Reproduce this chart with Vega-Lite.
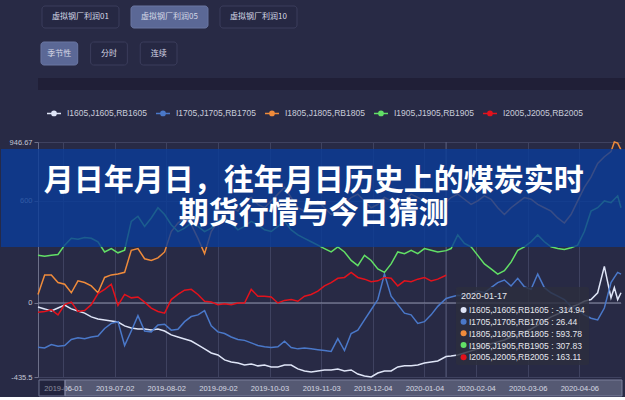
{
"$schema": "https://vega.github.io/schema/vega-lite/v6.json",
"background": "#282a45",
"padding": {"left": 0, "top": 5, "right": 0, "bottom": 0},
"spacing": 12,
"resolve": {"scale": {"color": "independent"}, "legend": {"color": "independent"}},
"config": {"view": {"stroke": null}, "font": "Liberation Sans, sans-serif"},
"vconcat": [
{
 "width": 259, "height": 22,
 "data": {"values": [{"label": "虚拟钢厂利润01", "sel": "n"}, {"label": "虚拟钢厂利润05", "sel": "y"}, {"label": "虚拟钢厂利润10", "sel": "n"}]},
 "encoding": {"x": {"field": "label", "type": "nominal", "sort": null, "axis": null, "scale": {"paddingInner": 0.135, "paddingOuter": 0.0225, "align": 1}}},
 "layer": [
  {"mark": {"type": "rect", "cornerRadius": 3, "strokeWidth": 1},
   "encoding": {"fill": {"field": "sel", "type": "nominal", "legend": null, "scale": {"domain": ["y", "n"], "range": ["#5b6896", "#262843"]}},
                "stroke": {"field": "sel", "type": "nominal", "legend": null, "scale": {"domain": ["y", "n"], "range": ["#6a76a2", "#3b3d5c"]}}}},
  {"mark": {"type": "text", "font": "Noto Sans CJK SC", "fontSize": 8, "color": "#d6d9e6"}, "encoding": {"text": {"field": "label"}}}
 ]
},
{
 "width": 139, "height": 23,
 "data": {"values": [{"label": "季节性", "sel": "y"}, {"label": "分时", "sel": "n"}, {"label": "连续", "sel": "n"}]},
 "encoding": {"x": {"field": "label", "type": "nominal", "sort": null, "axis": null, "scale": {"paddingInner": 0.26, "paddingOuter": 0.03, "align": 1}}},
 "layer": [
  {"mark": {"type": "rect", "cornerRadius": 3, "strokeWidth": 1},
   "encoding": {"fill": {"field": "sel", "type": "nominal", "legend": null, "scale": {"domain": ["y", "n"], "range": ["#5b6896", "#262843"]}},
                "stroke": {"field": "sel", "type": "nominal", "legend": null, "scale": {"domain": ["y", "n"], "range": ["#6a76a2", "#3b3d5c"]}}}},
  {"mark": {"type": "text", "font": "Noto Sans CJK SC", "fontSize": 8, "color": "#d6d9e6"}, "encoding": {"text": {"field": "label"}}}
 ]
},
{
 "width": 625, "height": 12,
 "view": {"fill": "#201f37"},
 "data": {"values": [{}]},
 "mark": {"type": "rect", "color": "#201f37"}
},
{
 "width": 583, "height": 235,
 "layer": [
  {"data": {"values": [{}]}, "mark": {"type": "rule", "color": "#8a8da6", "strokeWidth": 1},
   "encoding": {"y": {"datum": 0, "type": "quantitative", "scale": {"domain": [-435.5, 946.67], "nice": false, "zero": false}}}},
  {"data": {"values": [{}]}, "mark": {"type": "rule", "color": "#5d6080", "strokeWidth": 1},
   "encoding": {"x": {"datum": {"year": 2020, "month": 1, "date": 17, "utc": true}, "type": "temporal", "scale": {"type": "utc", "domain": [{"year": 2019, "month": 5, "date": 17, "utc": true}, {"year": 2020, "month": 5, "date": 1, "utc": true}]}}}},
  {
   "data": {"values": [
{"date":"2019-05-17","I1605":-24,"I1705":-260,"I1805":50,"I1905":280,"I2005":-55},
{"date":"2019-05-21","I1605":-35,"I1705":-265,"I1805":165,"I1905":275,"I2005":-50},
{"date":"2019-05-25","I1605":-47,"I1705":-245,"I1805":165,"I1905":280,"I2005":-40},
{"date":"2019-05-29","I1605":-30,"I1705":-255,"I1805":120,"I1905":285,"I2005":-70},
{"date":"2019-06-02","I1605":-12,"I1705":-250,"I1805":110,"I1905":340,"I2005":-10},
{"date":"2019-06-06","I1605":-35,"I1705":-215,"I1805":60,"I1905":380,"I2005":5},
{"date":"2019-06-10","I1605":-47,"I1705":-205,"I1805":130,"I1905":375,"I2005":-50},
{"date":"2019-06-14","I1605":-60,"I1705":-210,"I1805":120,"I1905":385,"I2005":-45},
{"date":"2019-06-18","I1605":-82,"I1705":-200,"I1805":100,"I1905":380,"I2005":-10},
{"date":"2019-06-22","I1605":-94,"I1705":-195,"I1805":60,"I1905":360,"I2005":55},
{"date":"2019-06-26","I1605":-100,"I1705":-150,"I1805":150,"I1905":300,"I2005":80},
{"date":"2019-06-30","I1605":-106,"I1705":-120,"I1805":165,"I1905":320,"I2005":110},
{"date":"2019-07-04","I1605":-112,"I1705":-110,"I1805":170,"I1905":295,"I2005":-15},
{"date":"2019-07-08","I1605":-135,"I1705":-250,"I1805":180,"I1905":310,"I2005":50},
{"date":"2019-07-12","I1605":-147,"I1705":-165,"I1805":310,"I1905":480,"I2005":30},
{"date":"2019-07-16","I1605":-153,"I1705":-75,"I1805":320,"I1905":510,"I2005":35},
{"date":"2019-07-20","I1605":-153,"I1705":-165,"I1805":260,"I1905":450,"I2005":5},
{"date":"2019-07-24","I1605":-159,"I1705":-170,"I1805":250,"I1905":500,"I2005":-30},
{"date":"2019-07-28","I1605":-153,"I1705":-130,"I1805":265,"I1905":560,"I2005":-50},
{"date":"2019-08-01","I1605":-165,"I1705":-125,"I1805":300,"I1905":520,"I2005":-60},
{"date":"2019-08-05","I1605":-188,"I1705":-160,"I1805":420,"I1905":460,"I2005":20},
{"date":"2019-08-09","I1605":-200,"I1705":-155,"I1805":470,"I1905":420,"I2005":50},
{"date":"2019-08-13","I1605":-212,"I1705":-110,"I1805":500,"I1905":440,"I2005":75},
{"date":"2019-08-17","I1605":-224,"I1705":-80,"I1805":460,"I1905":470,"I2005":80},
{"date":"2019-08-21","I1605":-247,"I1705":-70,"I1805":380,"I1905":450,"I2005":50},
{"date":"2019-08-25","I1605":-270,"I1705":-45,"I1805":290,"I1905":420,"I2005":10},
{"date":"2019-08-29","I1605":-294,"I1705":-135,"I1805":420,"I1905":440,"I2005":5},
{"date":"2019-09-02","I1605":-306,"I1705":-170,"I1805":480,"I1905":480,"I2005":-10},
{"date":"2019-09-06","I1605":-335,"I1705":-180,"I1805":520,"I1905":500,"I2005":-5},
{"date":"2019-09-10","I1605":-347,"I1705":-200,"I1805":560,"I1905":470,"I2005":-10},
{"date":"2019-09-14","I1605":-353,"I1705":-215,"I1805":540,"I1905":430,"I2005":0},
{"date":"2019-09-18","I1605":-365,"I1705":-220,"I1805":600,"I1905":450,"I2005":0},
{"date":"2019-09-22","I1605":-359,"I1705":-235,"I1805":620,"I1905":480,"I2005":80},
{"date":"2019-09-26","I1605":-370,"I1705":-250,"I1805":580,"I1905":460,"I2005":40},
{"date":"2019-09-30","I1605":-365,"I1705":-258,"I1805":560,"I1905":430,"I2005":40},
{"date":"2019-10-04","I1605":-376,"I1705":-262,"I1805":600,"I1905":420,"I2005":35},
{"date":"2019-10-08","I1605":-376,"I1705":-258,"I1805":640,"I1905":450,"I2005":0},
{"date":"2019-10-12","I1605":-365,"I1705":-225,"I1805":680,"I1905":480,"I2005":15},
{"date":"2019-10-16","I1605":-365,"I1705":-262,"I1805":620,"I1905":430,"I2005":20},
{"date":"2019-10-20","I1605":-388,"I1705":-270,"I1805":560,"I1905":400,"I2005":10},
{"date":"2019-10-24","I1605":-400,"I1705":-265,"I1805":540,"I1905":380,"I2005":40},
{"date":"2019-10-28","I1605":-406,"I1705":-270,"I1805":580,"I1905":360,"I2005":50},
{"date":"2019-11-01","I1605":-400,"I1705":-275,"I1805":600,"I1905":340,"I2005":70},
{"date":"2019-11-05","I1605":-394,"I1705":-280,"I1805":560,"I1905":320,"I2005":100},
{"date":"2019-11-09","I1605":-394,"I1705":-285,"I1805":520,"I1905":300,"I2005":120},
{"date":"2019-11-13","I1605":-388,"I1705":-210,"I1805":540,"I1905":330,"I2005":145},
{"date":"2019-11-17","I1605":-400,"I1705":-280,"I1805":580,"I1905":300,"I2005":150},
{"date":"2019-11-21","I1605":-394,"I1705":-180,"I1805":620,"I1905":250,"I2005":180},
{"date":"2019-11-25","I1605":-418,"I1705":-160,"I1805":640,"I1905":220,"I2005":150},
{"date":"2019-11-29","I1605":-429,"I1705":-100,"I1805":600,"I1905":280,"I2005":140},
{"date":"2019-12-03","I1605":-435.5,"I1705":-40,"I1805":560,"I1905":250,"I2005":125},
{"date":"2019-12-07","I1605":-412,"I1705":20,"I1805":580,"I1905":200,"I2005":130},
{"date":"2019-12-11","I1605":-400,"I1705":170,"I1805":620,"I1905":180,"I2005":150},
{"date":"2019-12-15","I1605":-400,"I1705":40,"I1805":600,"I1905":230,"I2005":145},
{"date":"2019-12-19","I1605":-376,"I1705":-10,"I1805":560,"I1905":300,"I2005":100},
{"date":"2019-12-23","I1605":-370,"I1705":-60,"I1805":600,"I1905":290,"I2005":130},
{"date":"2019-12-27","I1605":-370,"I1705":-70,"I1805":640,"I1905":310,"I2005":125},
{"date":"2019-12-31","I1605":-365,"I1705":-120,"I1805":620,"I1905":290,"I2005":140},
{"date":"2020-01-04","I1605":-353,"I1705":-110,"I1805":600,"I1905":320,"I2005":150},
{"date":"2020-01-08","I1605":-347,"I1705":-70,"I1805":580,"I1905":310,"I2005":130},
{"date":"2020-01-12","I1605":-341,"I1705":-20,"I1805":600,"I1905":300,"I2005":140},
{"date":"2020-01-17","I1605":-314.94,"I1705":26.44,"I1805":593.78,"I1905":307.83,"I2005":163.11},
{"date":"2020-01-20","I1605":-312,"I1705":35,"I1805":620,"I1905":320},
{"date":"2020-01-24","I1605":-306,"I1705":45,"I1805":640,"I1905":400},
{"date":"2020-01-28","I1605":-294,"I1705":40,"I1805":610,"I1905":350},
{"date":"2020-02-01","I1605":-282,"I1705":55,"I1805":580,"I1905":330},
{"date":"2020-02-05","I1605":-270,"I1705":70,"I1805":600,"I1905":280},
{"date":"2020-02-09","I1605":-259,"I1705":60,"I1805":630,"I1905":230},
{"date":"2020-02-13","I1605":-240,"I1705":90,"I1805":610,"I1905":200},
{"date":"2020-02-17","I1605":-229,"I1705":120,"I1805":560,"I1905":170},
{"date":"2020-02-21","I1605":-218,"I1705":135,"I1805":520,"I1905":190},
{"date":"2020-02-25","I1605":-200,"I1705":100,"I1805":560,"I1905":240},
{"date":"2020-02-29","I1605":-188,"I1705":145,"I1805":590,"I1905":310},
{"date":"2020-03-04","I1605":-170,"I1705":95,"I1805":620,"I1905":330},
{"date":"2020-03-08","I1605":-153,"I1705":80,"I1805":610,"I1905":360},
{"date":"2020-03-12","I1605":-130,"I1705":170,"I1805":580,"I1905":400},
{"date":"2020-03-16","I1605":-106,"I1705":90,"I1805":560,"I1905":360},
{"date":"2020-03-20","I1605":-82,"I1705":60,"I1805":540,"I1905":330},
{"date":"2020-03-24","I1605":-65,"I1705":40,"I1805":500,"I1905":320},
{"date":"2020-03-28","I1605":-47,"I1705":20,"I1805":470,"I1905":315},
{"date":"2020-04-01","I1605":-24,"I1705":-20,"I1805":520,"I1905":325},
{"date":"2020-04-05","I1605":-10,"I1705":-40,"I1805":600,"I1905":340},
{"date":"2020-04-09","I1605":10,"I1705":-70,"I1805":680,"I1905":420},
{"date":"2020-04-13","I1605":20,"I1705":-90,"I1805":740,"I1905":540},
{"date":"2020-04-17","I1605":60,"I1705":-100,"I1805":820,"I1905":560},
{"date":"2020-04-21","I1605":215,"I1705":-30,"I1805":860,"I1905":600},
{"date":"2020-04-25","I1605":30,"I1705":120,"I1805":890,"I1905":590},
{"date":"2020-04-27","I1605":90,"I1705":150,"I1805":946.67,"I1905":610},
{"date":"2020-04-29","I1605":20,"I1705":180,"I1805":940,"I1905":630},
{"date":"2020-05-01","I1605":60,"I1705":170,"I1805":900,"I1905":560}
   ]},
   "transform": [{"fold": ["I1605", "I1705", "I1805", "I1905", "I2005"], "as": ["series", "value"]}],
   "mark": {"type": "line", "strokeWidth": 1.5},
   "encoding": {
    "x": {"field": "date", "type": "temporal",
          "scale": {"type": "utc", "domain": [{"year": 2019, "month": 5, "date": 17, "utc": true}, {"year": 2020, "month": 5, "date": 1, "utc": true}]},
          "axis": {"title": null, "labelExpr": "utcFormat(datum.value, '%Y-%m-%d')",
                   "values": [{"year": 2019, "month": 6, "date": 1, "utc": true}, {"year": 2019, "month": 7, "date": 2, "utc": true}, {"year": 2019, "month": 8, "date": 2, "utc": true}, {"year": 2019, "month": 9, "date": 2, "utc": true}, {"year": 2019, "month": 10, "date": 3, "utc": true}, {"year": 2019, "month": 11, "date": 3, "utc": true}, {"year": 2019, "month": 12, "date": 4, "utc": true}, {"year": 2020, "month": 1, "date": 4, "utc": true}, {"year": 2020, "month": 2, "date": 4, "utc": true}, {"year": 2020, "month": 3, "date": 6, "utc": true}, {"year": 2020, "month": 4, "date": 6, "utc": true}],
                   "grid": true, "gridColor": "#3f4260", "domain": false, "ticks": false,
                   "labelColor": "#e2e4ee", "labelFontSize": 7.5, "labelPadding": 7, "labelOverlap": false, "labelFlush": false}},
    "y": {"field": "value", "type": "quantitative",
          "scale": {"domain": [-435.5, 946.67], "nice": false, "zero": false},
          "axis": {"title": null, "values": [-435.5, -300, 0, 300, 600, 900, 946.67], "labelExpr": "'' + datum.value",
                   "grid": true, "gridColor": "#3f4260", "domainColor": "#6d7089", "tickColor": "#6d7089", "tickSize": 4,
                   "labelColor": "#c3c6d4", "labelFontSize": 7.5, "labelPadding": 2, "labelOverlap": false}},
    "color": {"field": "series", "type": "nominal",
              "scale": {"domain": ["I1605", "I1705", "I1805", "I1905", "I2005"], "range": ["#dfe5f7", "#4a78c9", "#ef8b3b", "#62e066", "#e3121c"]},
              "legend": {"title": null, "orient": "top", "direction": "horizontal",
                         "labelExpr": "datum.label + ',' + replace(datum.label, 'I', 'J') + ',' + replace(datum.label, 'I', 'RB')",
                         "symbolType": "M-1,0L-0.3,0M0.3,0L1,0M0.3,0A0.3,0.3,0,1,1,-0.3,0A0.3,0.3,0,1,1,0.3,0M0.12,0A0.12,0.12,0,1,1,-0.12,0A0.12,0.12,0,1,1,0.12,0",
                         "symbolSize": 196, "symbolStrokeWidth": 1.5, "symbolOffset": 5, "labelColor": "#c9ccda", "labelFontSize": 8.5,
                         "labelOffset": 5, "columnPadding": 3, "padding": 3, "offset": 17}}
   }
  },
  {"data": {"values": [{}]}, "mark": {"type": "rect", "color": "#0a3c98", "opacity": 0.8},
   "encoding": {"x": {"datum": {"year": 2019, "month": 4, "date": 24, "hours": 18, "utc": true}, "type": "temporal", "scale": {"type": "utc", "domain": [{"year": 2019, "month": 5, "date": 17, "utc": true}, {"year": 2020, "month": 5, "date": 1, "utc": true}]}},
                "x2": {"datum": {"year": 2020, "month": 5, "date": 5, "utc": true}},
                "y": {"datum": 905.5, "type": "quantitative", "scale": {"domain": [-435.5, 946.67], "nice": false, "zero": false}},
                "y2": {"datum": 329}}},
  {"data": {"values": [{}]}, "mark": {"type": "text", "text": "月日年月日，往年月日历史上的煤炭实时", "font": "Noto Sans CJK SC", "fontWeight": "bold", "fontSize": 30, "color": "#ffffff", "align": "center", "baseline": "middle"},
   "encoding": {"x": {"datum": {"year": 2019, "month": 10, "date": 29, "hours": 14, "utc": true}, "type": "temporal"}, "y": {"datum": 717, "type": "quantitative"}}},
  {"data": {"values": [{}]}, "mark": {"type": "text", "text": "期货行情与今日猜测", "font": "Noto Sans CJK SC", "fontWeight": "bold", "fontSize": 30, "color": "#ffffff", "align": "center", "baseline": "middle"},
   "encoding": {"x": {"datum": {"year": 2019, "month": 10, "date": 29, "hours": 14, "utc": true}, "type": "temporal"}, "y": {"datum": 523, "type": "quantitative"}}},
  {"data": {"values": [{}]}, "mark": {"type": "rect", "color": "#1d1e35", "fillOpacity": 0.45, "stroke": "#6f7390", "strokeWidth": 1},
   "encoding": {"x": {"datum": {"year": 2019, "month": 5, "date": 17, "hours": 14, "utc": true}, "type": "temporal", "scale": {"type": "utc", "domain": [{"year": 2019, "month": 5, "date": 17, "utc": true}, {"year": 2020, "month": 5, "date": 1, "utc": true}]}},
                "x2": {"datum": {"year": 2019, "month": 6, "date": 2, "hours": 5, "utc": true}},
                "y": {"datum": -453, "type": "quantitative", "scale": {"domain": [-435.5, 946.67], "nice": false, "zero": false}},
                "y2": {"datum": -547}}},
  {"data": {"values": [{}]}, "mark": {"type": "rect", "color": "#b4b8d2", "fillOpacity": 0.33, "stroke": "#7b7f9c", "strokeWidth": 1},
   "encoding": {"x": {"datum": {"year": 2019, "month": 6, "date": 2, "hours": 5, "utc": true}, "type": "temporal", "scale": {"type": "utc", "domain": [{"year": 2019, "month": 5, "date": 17, "utc": true}, {"year": 2020, "month": 5, "date": 1, "utc": true}]}},
                "x2": {"datum": {"year": 2020, "month": 5, "date": 1, "hours": 14, "utc": true}},
                "y": {"datum": -453, "type": "quantitative", "scale": {"domain": [-435.5, 946.67], "nice": false, "zero": false}},
                "y2": {"datum": -547}}},
  {"data": {"values": [{}]}, "mark": {"type": "rect", "color": "#2c2e3e", "opacity": 0.82, "cornerRadius": 2},
   "encoding": {"x": {"datum": {"year": 2020, "month": 1, "date": 22, "hours": 22, "utc": true}, "type": "temporal"},
                "x2": {"datum": {"year": 2020, "month": 4, "date": 11, "hours": 19, "utc": true}},
                "y": {"datum": 94, "type": "quantitative"}, "y2": {"datum": -365}}},
  {"data": {"values": [{}]}, "mark": {"type": "text", "text": "2020-01-17", "fontSize": 9, "color": "#e6e7ee", "align": "left", "baseline": "middle"},
   "encoding": {"x": {"datum": {"year": 2020, "month": 1, "date": 25, "hours": 22, "utc": true}, "type": "temporal"}, "y": {"datum": 42.7, "type": "quantitative"}}},
  {"data": {"values": [{}]}, "mark": {"type": "text", "text": ["I1605,J1605,RB1605 : -314.94", "I1705,J1705,RB1705 : 26.44", "I1805,J1805,RB1805 : 593.78", "I1905,J1905,RB1905 : 307.83", "I2005,J2005,RB2005 : 163.11"], "lineHeight": 11.8, "fontSize": 8.5, "color": "#e6e7ee", "align": "left", "baseline": "top"},
   "encoding": {"x": {"datum": {"year": 2020, "month": 1, "date": 30, "hours": 17, "utc": true}, "type": "temporal"}, "y": {"datum": -19, "type": "quantitative"}}},
  {"data": {"values": [{}]}, "mark": {"type": "point", "filled": true, "size": 36, "opacity": 1, "color": "#dfe5f7"},
   "encoding": {"x": {"datum": {"year": 2020, "month": 1, "date": 27, "hours": 12, "utc": true}, "type": "temporal"}, "y": {"datum": -41.4, "type": "quantitative"}}},
  {"data": {"values": [{}]}, "mark": {"type": "point", "filled": true, "size": 36, "opacity": 1, "color": "#4a78c9"},
   "encoding": {"x": {"datum": {"year": 2020, "month": 1, "date": 27, "hours": 12, "utc": true}, "type": "temporal"}, "y": {"datum": -110.2, "type": "quantitative"}}},
  {"data": {"values": [{}]}, "mark": {"type": "point", "filled": true, "size": 36, "opacity": 1, "color": "#ef8b3b"},
   "encoding": {"x": {"datum": {"year": 2020, "month": 1, "date": 27, "hours": 12, "utc": true}, "type": "temporal"}, "y": {"datum": -178.4, "type": "quantitative"}}},
  {"data": {"values": [{}]}, "mark": {"type": "point", "filled": true, "size": 36, "opacity": 1, "color": "#62e066"},
   "encoding": {"x": {"datum": {"year": 2020, "month": 1, "date": 27, "hours": 12, "utc": true}, "type": "temporal"}, "y": {"datum": -247.2, "type": "quantitative"}}},
  {"data": {"values": [{}]}, "mark": {"type": "point", "filled": true, "size": 36, "opacity": 1, "color": "#e3121c"},
   "encoding": {"x": {"datum": {"year": 2020, "month": 1, "date": 27, "hours": 12, "utc": true}, "type": "temporal"}, "y": {"datum": -319.6, "type": "quantitative"}}}
 ]
}
]
}
